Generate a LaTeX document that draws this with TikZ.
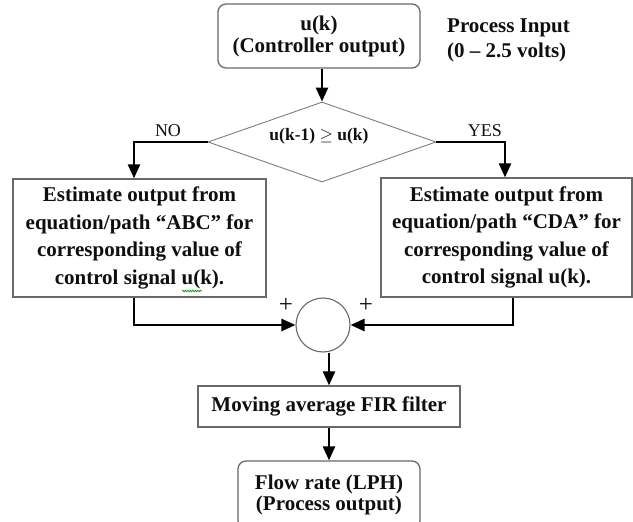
\documentclass[tikz,border=0pt]{standalone}
\usepackage{fontspec}
\setmainfont{Liberation Serif}
\usetikzlibrary{arrows.meta,shapes.geometric,decorations.pathmorphing}
\definecolor{boxgray}{RGB}{105,105,105}
\definecolor{diagray}{RGB}{125,125,125}
\definecolor{inkblack}{RGB}{15,15,15}
\tikzset{
  box/.style={draw=boxgray, line width=1.3pt, inner sep=0pt, align=center, text=inkblack},
  bigtxt/.style={font=\fontsize{21}{27.5}\selectfont\bfseries},
  arr/.style={line width=2.6pt, -{Triangle[length=14pt,width=12pt]}},
  lbl/.style={font=\fontsize{18}{20}\selectfont, text=inkblack, inner sep=0pt},
  plus/.style={font=\fontsize{25}{26}\selectfont, text=inkblack, inner sep=0pt},
}
\begin{document}
\begin{tikzpicture}[x=1pt,y=-1pt]
\useasboundingbox (0,0) rectangle (633,522);

\node[box, rounded corners=8pt, minimum width=202pt, minimum height=64pt,
      font=\fontsize{21}{22}\selectfont\bfseries] (top) at (319,36) {u(k)\\(Controller output)};
\node[font=\fontsize{21}{25}\selectfont\bfseries, align=left, anchor=west, inner sep=0pt, text=inkblack]
      (pin) at (447,40) {Process Input\\(0 – 2.5 volts)};

\node[draw=diagray, line width=0.9pt, shape=diamond, minimum width=228pt, minimum height=80pt, inner sep=0pt] (dec) at (322,142) {};
\node[font=\fontsize{17.5}{20}\selectfont\bfseries, text=inkblack, inner sep=0pt] (dectxt) at (319,136) {u(k-1) $\geq$ u(k)};

\node[lbl] (no) at (168,131) {NO};
\node[lbl] (yes) at (485,131) {YES};

\node[box, bigtxt, minimum width=253pt, minimum height=118pt] (abc) at (139.5,238)
  {Estimate output from\\equation/path “ABC” for\\corresponding value of\\control signal u(k).};
\node[box, bigtxt, minimum width=251pt, minimum height=119pt] (cda) at (506.5,237.5)
  {Estimate output from\\equation/path “CDA” for\\corresponding value of\\control signal u(k).};

\node[draw=boxgray, line width=1.1pt, circle, minimum size=54pt, inner sep=0pt] (sum) at (323,325) {};
\node[plus] (p1) at (286,305) {+};
\node[plus] (p2) at (366,305) {+};

\node[box, bigtxt, minimum width=262pt, minimum height=41pt] (fir) at (329,406.5) {Moving average FIR filter};
\node[box, rounded corners=8pt, minimum width=182pt, minimum height=68pt,
      font=\fontsize{21}{21.5}\selectfont\bfseries] (flow) at (329,495) {Flow rate (LPH)\\(Process output)};

\draw[arr] (top.south -| dec.north) -- (dec.north);
\draw[arr] (dec.west) -| ([xshift=-5.5pt]abc.north);
\draw[arr] (dec.east) -| ([xshift=-1.5pt]cda.north);
\draw[arr] ([xshift=-5.5pt]abc.south) |- (sum.west);
\draw[arr] ([xshift=6.5pt]cda.south) |- (sum.east);
\draw[arr] (sum.south -| fir.north) -- (fir.north);
\draw[arr] (fir.south) -- (flow.north);

\draw[green!60!black, line width=0.7pt, decorate, decoration={snake, amplitude=0.8pt, segment length=2.5pt}] (182,291) -- (202,291);
\end{tikzpicture}
\end{document}
